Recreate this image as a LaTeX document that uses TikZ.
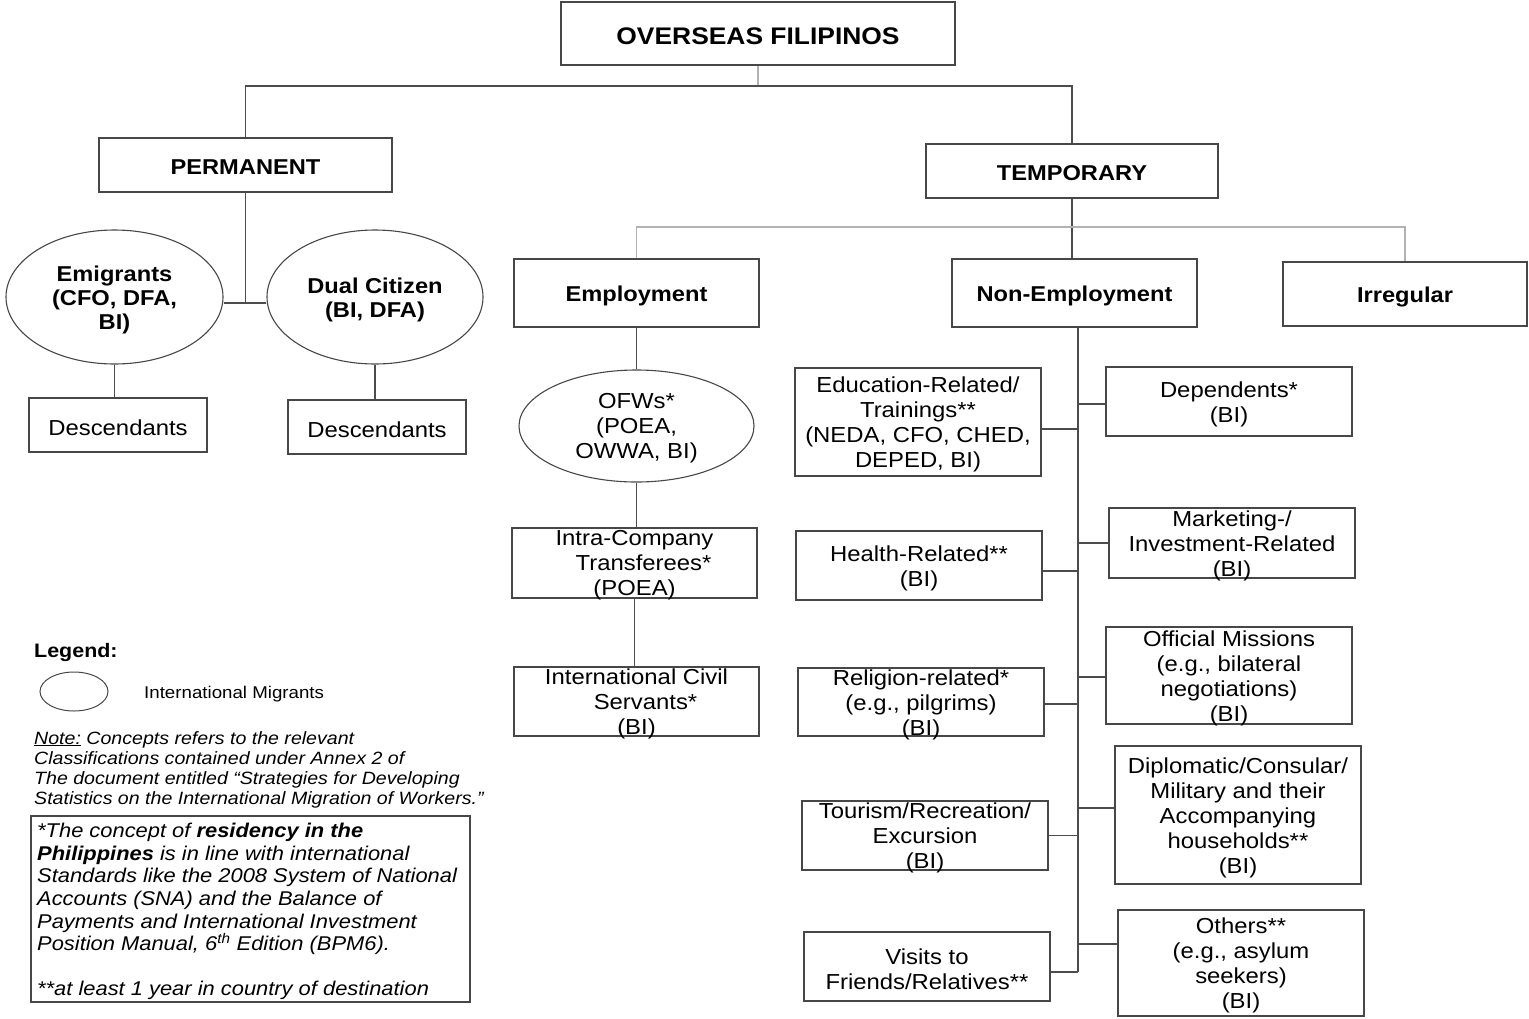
\documentclass[tikz,border=0pt]{standalone}
\usepackage{fontspec}
\setmainfont{Liberation Sans}[FakeStretch=1.1]
\usetikzlibrary{shapes.geometric}
\newcommand\rfont{\fontsize{21.7}{25}\selectfont}
\newcommand\hfont{\bfseries\fontsize{21.5}{24}\selectfont}
\begin{document}
\begin{tikzpicture}[x=1pt,y=-1pt,
  box/.style={draw=black!72, line width=1.2pt, inner sep=0pt, rectangle},
  oval/.style={ellipse, draw=black!72, line width=1.1pt, inner sep=0pt},
  txt/.style={align=center, font=\rfont, inner sep=0pt, yshift=-2.5pt},
  htxt/.style={align=center, font=\hfont, inner sep=0pt, yshift=-2.5pt},
  conn/.style={draw=black!70, line width=1.2pt},
  lconn/.style={draw=black!30, line width=1.2pt}]
\useasboundingbox (0,0) rectangle (1529,1018);

% top levels
\node[box, minimum width=394, minimum height=63, label={[htxt, font=\bfseries\fontsize{24}{27}\selectfont]center:OVERSEAS FILIPINOS}] (top) at (758,33.5) {};
\node[box, minimum width=293, minimum height=54, label={[htxt]center:PERMANENT}] (perm) at (245.5,165) {};
\node[box, minimum width=292, minimum height=54, label={[htxt]center:TEMPORARY}] (temp) at (1072,171) {};

% permanent branch
\node[oval, minimum width=217, minimum height=134, label={[htxt]center:{Emigrants\\(CFO, DFA,\\BI)}}] (emig) at (114.5,297) {};
\node[oval, minimum width=216, minimum height=134, label={[htxt]center:{Dual Citizen\\(BI, DFA)}}] (dual) at (375,297) {};
\node[box, minimum width=178, minimum height=54, label={[txt]center:Descendants}] (desc1) at (118,425) {};
\node[box, minimum width=178, minimum height=54, label={[txt]center:Descendants}] (desc2) at (377,427) {};

% temporary level
\node[box, minimum width=245, minimum height=68, label={[htxt]center:Employment}] (emp) at (636.5,293) {};
\node[box, minimum width=245, minimum height=68, label={[htxt]center:Non-Employment}] (nonemp) at (1074.5,293) {};
\node[box, minimum width=244, minimum height=64, label={[htxt]center:Irregular}] (irr) at (1405,294) {};

% employment column
\node[oval, minimum width=235, minimum height=112, label={[txt]center:{OFWs*\\(POEA,\\OWWA, BI)}}] (ofw) at (636.5,426) {};
\node[box, minimum width=245, minimum height=70, label={[txt]center:{Intra-Company\\\hspace*{18pt}Transferees*\\(POEA)}}] (intra) at (634.5,563) {};
\node[box, minimum width=245, minimum height=69, label={[txt]center:{International Civil\\\hspace*{18pt}Servants*\\(BI)}}] (ics) at (636.5,701.5) {};

% non-employment left column
\node[box, minimum width=246, minimum height=108, label={[txt]center:{Education-Related/\\Trainings**\\(NEDA, CFO, CHED,\\DEPED, BI)}}] (edu) at (918,422) {};
\node[box, minimum width=246, minimum height=69, label={[txt]center:{Health-Related**\\(BI)}}] (health) at (919,565.5) {};
\node[box, minimum width=246, minimum height=68, label={[txt]center:{Religion-related*\\(e.g., pilgrims)\\(BI)}}] (relig) at (921,702) {};
\node[box, minimum width=246, minimum height=69, label={[txt]center:{Tourism/Recreation/\\Excursion\\(BI)}}] (tour) at (925,835.5) {};
\node[box, minimum width=246, minimum height=69, label={[txt]center:{Visits to\\Friends/Relatives**}}] (visits) at (927,966.5) {};

% non-employment right column
\node[box, minimum width=246, minimum height=69, label={[txt]center:{Dependents*\\(BI)}}] (dep) at (1229,401.5) {};
\node[box, minimum width=246, minimum height=70, label={[txt]center:{Marketing-/\\Investment-Related\\(BI)}}] (mkt) at (1232,543) {};
\node[box, minimum width=246, minimum height=97, label={[txt]center:{Official Missions\\(e.g., bilateral\\negotiations)\\(BI)}}] (off) at (1229,675.5) {};
\node[box, minimum width=246, minimum height=138, label={[txt]center:{Diplomatic/Consular/\\Military and their\\Accompanying\\households**\\(BI)}}] (dip) at (1238,815) {};
\node[box, minimum width=246, minimum height=106, label={[txt]center:{Others**\\(e.g., asylum\\seekers)\\(BI)}}] (oth) at (1241,963) {};

% connectors
\coordinate (j0) at (758,86);
\coordinate (j2) at (1072,227);
\coordinate (tend) at (1078,972);
\draw[lconn] (top.south) -- (j0);
\draw[conn] (perm.north) |- (j0) -| (temp.north);
\draw[conn] (perm.south) -- ([yshift=-6pt]perm.south |- emig.east);
\draw[conn] ([yshift=-6pt]emig.east) -- ([yshift=-6pt]dual.west);
\draw[conn] (emig.south) -- (emig.south |- desc1.north);
\draw[conn] (dual.south) -- (dual.south |- desc2.north);
\draw[conn] (temp.south) -- (temp.south |- nonemp.north);
\draw[lconn] (emp.north) |- (j2) -| (irr.north);
\draw[conn] (emp.south) -- (emp.south |- ofw.north);
\draw[conn] (ofw.south) -- (ofw.south |- intra.north);
\draw[conn] (intra.south) -- (intra.south |- ics.north);
\draw[conn] (tend |- nonemp.south) -- (tend);
\draw[conn] ([yshift=-7pt]edu.east) -- ([yshift=-7pt]edu.east -| tend);
\draw[conn] ([yshift=-5.5pt]health.east) -- ([yshift=-5.5pt]health.east -| tend);
\draw[conn] ([yshift=-2pt]relig.east) -- ([yshift=-2pt]relig.east -| tend);
\draw[conn] (tour.east) -- (tour.east -| tend);
\draw[conn] (visits.east |- tend) -- (tend);
\draw[conn] ([yshift=-2.5pt]dep.west) -- ([yshift=-2.5pt]dep.west -| tend);
\draw[conn] (mkt.west) -- (mkt.west -| tend);
\draw[conn] ([yshift=-1.5pt]off.west) -- ([yshift=-1.5pt]off.west -| tend);
\draw[conn] ([yshift=7pt]dip.west) -- ([yshift=7pt]dip.west -| tend);
\draw[conn] ([yshift=19pt]oth.west) -- ([yshift=19pt]oth.west -| tend);

% legend
\node[anchor=west, inner sep=0pt, font=\bfseries\fontsize{19.5}{22}\selectfont] (legtitle) at (34,652) {Legend:};
\node[oval, line width=1pt, minimum width=68, minimum height=39] (legoval) at (74,691.5) {};
\node[anchor=west, inner sep=0pt, font=\fontsize{17}{20}\selectfont] (legtext) at (144,694) {International Migrants};
\node[anchor=north west, inner sep=0pt, align=left, font=\itshape\fontsize{17.8}{20}\selectfont] (note) at (34,731) {\underline{Note:} Concepts refers to the relevant\\Classifications contained under Annex 2 of\\The document entitled “Strategies for Developing\\Statistics on the International Migration of Workers.”};
\node[draw=black!72, line width=1.2pt, minimum width=439, minimum height=186, inner sep=0pt] (notebox) at (250.5,909) {};
\node[anchor=north west, inner sep=0pt, align=left, font=\itshape\fontsize{19.9}{22.6}\selectfont] (notetext) at (37,823) {*The concept of \textbf{residency in the}\\\textbf{Philippines} is in line with international\\Standards like the 2008 System of National\\Accounts (SNA) and the Balance of\\Payments and International Investment\\Position Manual, 6\textsuperscript{th} Edition (BPM6).\\[22.6pt]**at least 1 year in country of destination};
\end{tikzpicture}
\end{document}
